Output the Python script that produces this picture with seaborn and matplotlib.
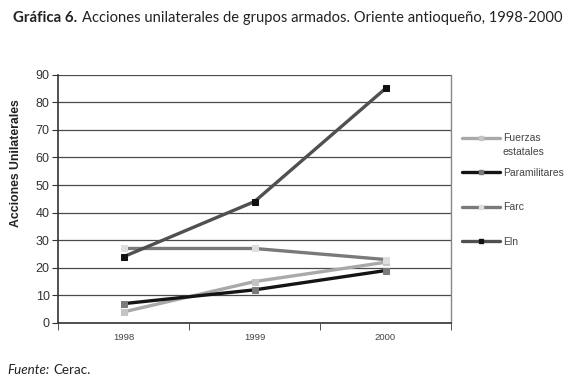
import pandas as pd
import seaborn as sns
import matplotlib.pyplot as plt
from matplotlib.lines import Line2D

# Data
years = ["1998", "1999", "2000"]
fuerzas = [4, 15, 22]
paramilitares = [7, 12, 19]
farc = [27, 27, 23]
eln = [24, 44, 85]

labels = ["Fuerzas", "Paramilitares", "Farc", "Eln"]
series = [fuerzas, paramilitares, farc, eln]
line_colors = ["#a9a9a9", "#141414", "#7a7a7a", "#505050"]
marker_colors = ["#c4c4c4", "#7a7a7a", "#dedede", "#111111"]

sns.set_style("white")
plt.rcParams["font.family"] = ["Liberation Sans", "DejaVu Sans"]

fig = plt.figure(figsize=(5.8, 3.91), dpi=100)
ax = fig.add_axes([0.1, 0.174, 0.6776, 0.635])

handles = []
for lab, vals, lc, mc in zip(labels, series, line_colors, marker_colors):
    df = pd.DataFrame({"year": years, "value": vals})
    sns.lineplot(data=df, x="year", y="value", ax=ax, color=lc, linewidth=2.4,
                 marker="s", markersize=4.5, markerfacecolor=mc, markeredgecolor=mc,
                 sort=False)
    handles.append(Line2D([], [], color=lc, linewidth=2.4, marker="s", markersize=3.5,
                          markerfacecolor=mc, markeredgecolor=mc))

ax.set_xlim(-0.5, 2.5)
ax.set_ylim(0, 90)
ax.set_yticks(range(0, 91, 10))
ax.grid(axis="y", color="#4a4a4a", linewidth=0.9)
ax.set_axisbelow(True)
ax.set_xlabel("")
ax.set_ylabel("Acciones Unilaterales", fontsize=8.8, fontweight="bold", color="#222222")
ax.yaxis.set_label_coords(-0.092, 0.645)

ax.tick_params(axis="y", labelsize=9, labelcolor="#333333", length=4, color="#333333",
               direction="out", left=True, pad=2)
ax.tick_params(axis="x", which="major", labelsize=6.8, labelcolor="#444444", length=0, pad=7)
ax.set_xticks([-0.5, 0.5, 1.5, 2.5], minor=True)
ax.tick_params(axis="x", which="minor", length=5, color="#333333", direction="out", bottom=True)

for s in ["left", "bottom"]:
    ax.spines[s].set_color("#333333")
    ax.spines[s].set_linewidth(1.2)
ax.spines["right"].set_color("#888888")
ax.spines["right"].set_linewidth(1.0)
ax.spines["top"].set_visible(False)

leg = ax.legend(handles, labels, loc="upper left", bbox_to_anchor=(1.028, 0.764),
                frameon=False, fontsize=7.5, handlelength=3.6, handletextpad=0.3,
                labelspacing=2.35, borderaxespad=0, borderpad=0)
for t in leg.get_texts():
    t.set_color("#444444")

fig.canvas.draw()
first = leg.get_texts()[0]
ax.annotate("estatales", xy=(0, 0), xycoords=first, xytext=(0, -3),
            textcoords="offset points", va="top", ha="left", fontsize=7.5, color="#444444")

# title with bold lead-in
t1 = fig.text(0.022, 0.955, "Gráfica 6.", fontsize=10.8, fontweight="bold", family="Lato",
              color="#222222", va="center")
fig.canvas.draw()
ax.annotate("Acciones unilaterales de grupos armados. Oriente antioqueño, 1998-2000",
            xy=(1, 0.5), xycoords=t1, xytext=(3.5, 0), textcoords="offset points",
            va="center", ha="left", fontsize=10.6, family="Lato", color="#222222")

t2 = fig.text(0.012, 0.053, "Fuente:", fontsize=9.6, style="italic", family="Lato",
              color="#222222", va="center")
ax.annotate("Cerac.", xy=(1, 0.5), xycoords=t2, xytext=(3, 0), textcoords="offset points",
            va="center", ha="left", fontsize=9.6, family="Lato", color="#222222")

fig.savefig("out.png", dpi=100)
